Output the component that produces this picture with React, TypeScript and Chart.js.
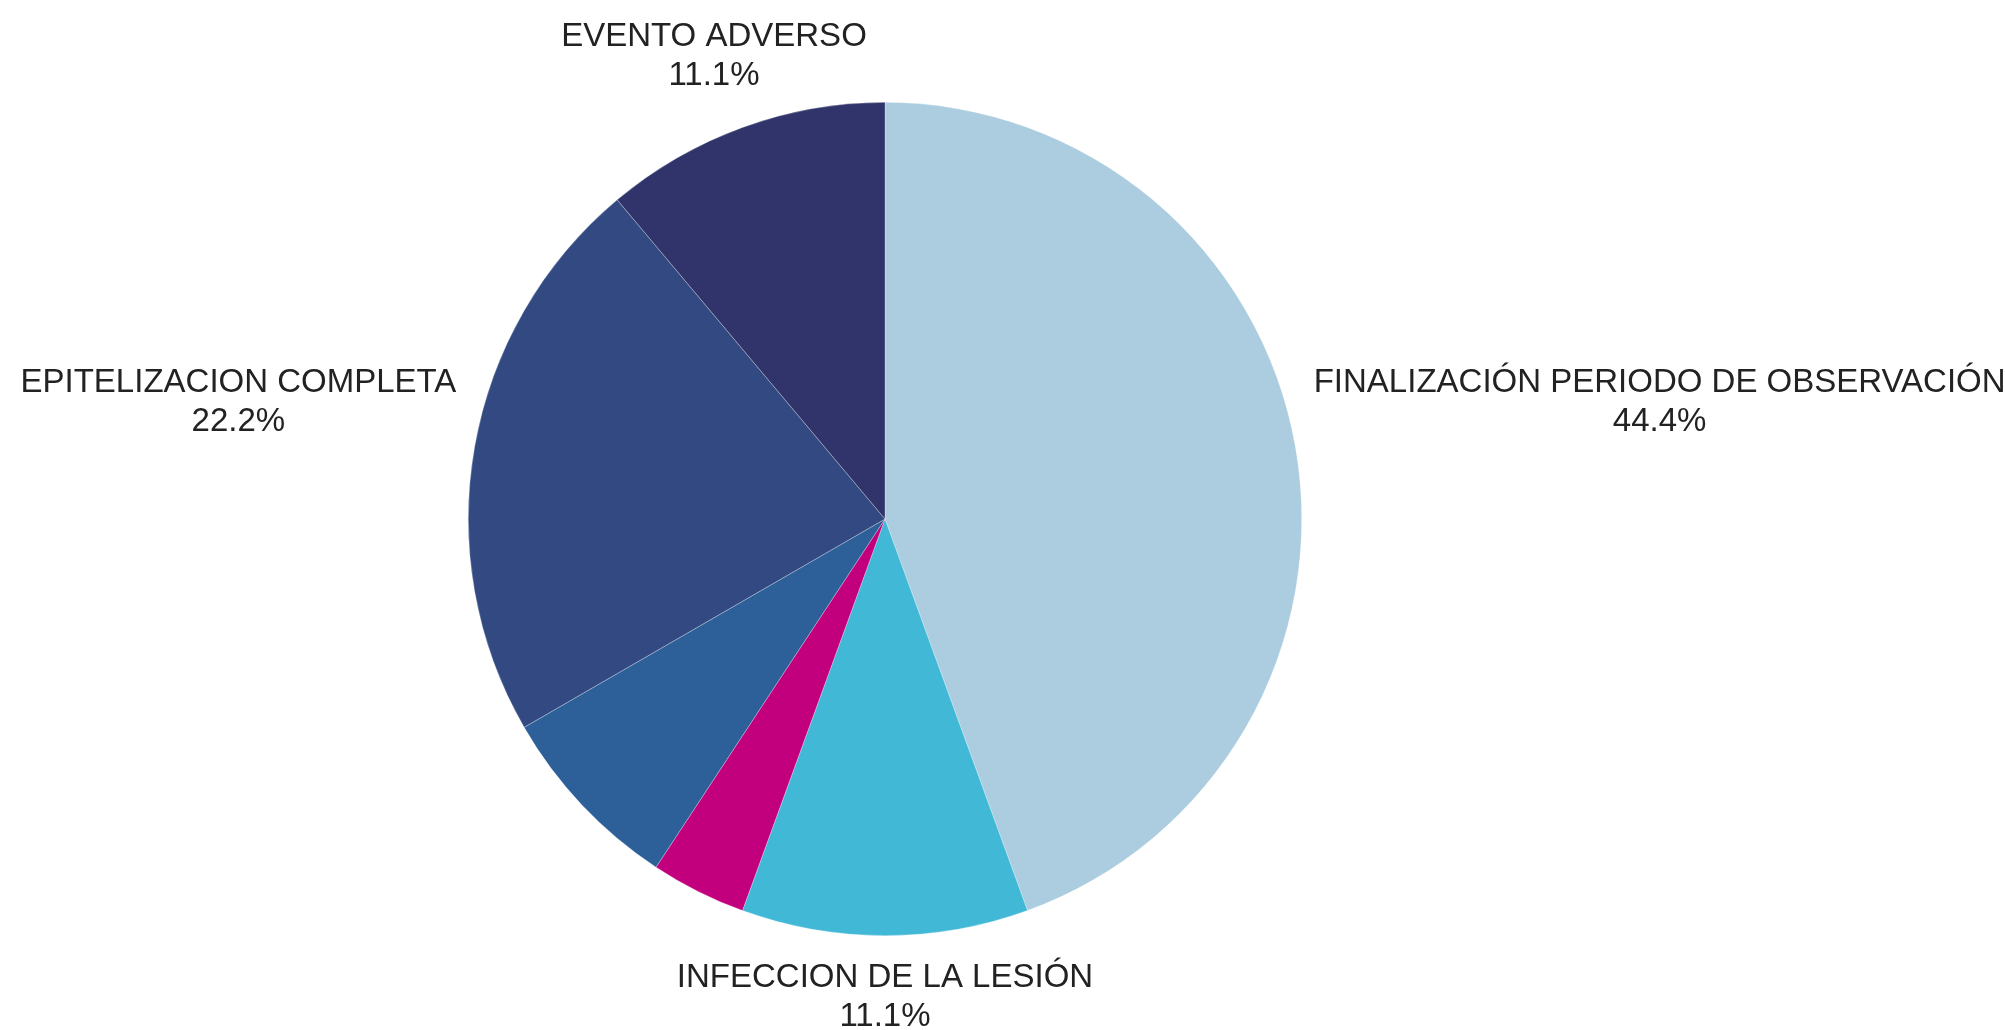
import React, { useEffect, useRef } from "react";
import { Chart, registerables } from "chart.js";

Chart.register(...registerables);

const categories = [
  "FINALIZACIÓN PERIODO DE OBSERVACIÓN",
  "INFECCION DE LA LESIÓN",
  "",
  "",
  "EPITELIZACION COMPLETA",
  "EVENTO ADVERSO",
];
const values = [12, 3, 1, 2, 6, 3];
const showLabel = [true, true, false, false, true, true];
const colors = ["#ACCDDF", "#42B8D7", "#C2007D", "#2D6098", "#324A81", "#30346A"];

const FONT = '33px "Liberation Sans", Arial, sans-serif';
const LINE = 39;

const labelPlugin = {
  id: "pieLabels",
  afterDraw(chart: any) {
    const ctx = chart.ctx;
    const meta = chart.getDatasetMeta(0);
    const total = values.reduce((a, b) => a + b, 0);
    ctx.save();
    ctx.font = FONT;
    ctx.fillStyle = "#222222";
    ctx.textBaseline = "alphabetic";
    meta.data.forEach((arc: any, i: number) => {
      if (!showLabel[i]) return;
      const { x: cx, y: cy, startAngle, endAngle, outerRadius: R } = arc.getProps(
        ["x", "y", "startAngle", "endAngle", "outerRadius"],
        true
      );
      const a = (startAngle + endAngle) / 2;
      const dx = Math.cos(a);
      const dy = Math.sin(a);
      const pct = ((values[i] / total) * 100).toFixed(1) + "%";
      let x: number;
      let y1: number;
      if (Math.abs(dx) > 0.7) {
        ctx.textAlign = dx > 0 ? "left" : "right";
        x = cx + Math.sign(dx) * (R + 12);
        y1 = cy + dy * R * 1.75;
      } else {
        ctx.textAlign = "center";
        x = cx + dx * R * 1.2;
        if (dy < 0) {
          y1 = cy - R - 17 - LINE;
        } else {
          y1 = cy + R + 51;
        }
      }
      if (ctx.textAlign !== "center") {
        // center the percentage under the category text
        const w = ctx.measureText(categories[i]).width;
        const mid = dx > 0 ? x + w / 2 : x - w / 2;
        ctx.textAlign = "center";
        ctx.fillText(categories[i], mid, y1);
        ctx.fillText(pct, mid, y1 + LINE);
      } else {
        ctx.fillText(categories[i], x, y1);
        ctx.fillText(pct, x, y1 + LINE);
      }
    });
    ctx.restore();
  },
};

export default function App() {
  const ref = useRef<HTMLCanvasElement>(null);
  useEffect(() => {
    document.body.style.margin = "0";
    const chart = new Chart(ref.current!, {
      type: "pie",
      data: {
        labels: categories,
        datasets: [
          {
            data: values,
            backgroundColor: colors,
            borderColor: "rgba(255,255,255,0.45)",
            borderWidth: 0.6,
          },
        ],
      },
      options: {
        animation: false,
        responsive: true,
        maintainAspectRatio: false,
        layout: { padding: { left: 468, right: 703, top: 102, bottom: 94 } },
        plugins: {
          legend: { display: false },
          tooltip: { enabled: false },
        },
      },
      plugins: [labelPlugin],
    });
    return () => chart.destroy();
  }, []);
  return (
    <div style={{ width: 2005, height: 1030, position: "relative", background: "#fff" }}>
      <canvas ref={ref} />
    </div>
  );
}
